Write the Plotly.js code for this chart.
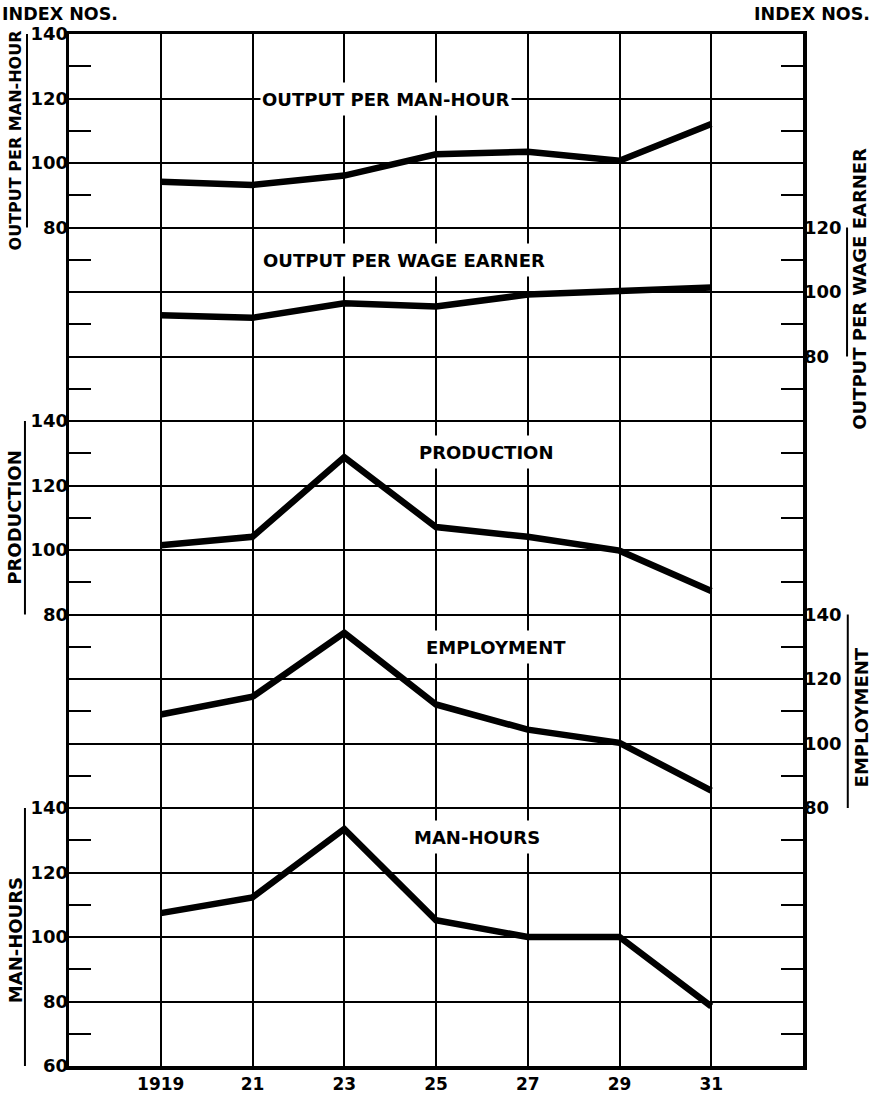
<!DOCTYPE html>
<html>
<head>
<meta charset="utf-8">
<script src="https://cdn.plot.ly/plotly-3.0.1.min.js"></script>
<style>
  html, body { margin: 0; padding: 0; background: #fff; }
  #chart { width: 873px; height: 1096px; }
</style>
</head>
<body>
<div id="chart"></div>
<script>
// ---- Data ----
const years = [1919, 1921, 1923, 1925, 1927, 1929, 1931];
const yearLabels = ['1919', '21', '23', '25', '27', '29', '31'];

const outputPerManHour    = [94.2, 93.2, 96.1, 102.7, 103.5, 100.7, 112.1];
const outputPerWageEarner = [92.8, 92.0, 96.5, 95.5, 99.2, 100.2, 101.4];
const production          = [101.5, 104.1, 128.8, 107.1, 104.1, 99.8, 87.3];
const employment          = [109.0, 114.5, 134.3, 112.1, 104.3, 100.2, 85.4];
const manHours            = [107.4, 112.3, 133.5, 105.2, 100.0, 100.0, 78.5];

const opmhTicks = [80, 100, 120, 140];
const opweTicks = [80, 100, 120];
const prodTicks = [80, 100, 120, 140];
const empTicks  = [80, 100, 120, 140];
const mhTicks   = [60, 80, 100, 120, 140];

const seriesNames = ['OUTPUT PER MAN-HOUR', 'OUTPUT PER WAGE EARNER', 'PRODUCTION', 'EMPLOYMENT', 'MAN-HOURS'];
const axisTitles  = ['OUTPUT PER MAN-HOUR', 'OUTPUT PER WAGE EARNER', 'PRODUCTION', 'EMPLOYMENT', 'MAN-HOURS'];
const headerText = 'INDEX NOS.';

// ---- Styling ----
const FONT = 'DejaVu Sans, Liberation Sans, sans-serif';
const INK = '#000';
const LINE_W = 6.5;

const series = [outputPerManHour, outputPerWageEarner, production, employment, manHours];
const axes = ['y2', 'y3', 'y4', 'y5', 'y6'];

// invisible carrier so the base (grid) subplot exists
const traces = [{
  type: 'scatter', mode: 'lines', x: [years[0]], y: [null], yaxis: 'y',
  line: { color: 'rgba(0,0,0,0)' }, showlegend: false, hoverinfo: 'skip'
}].concat(series.map((vals, i) => ({
  type: 'scatter', mode: 'lines',
  x: years, y: vals, yaxis: axes[i], name: seriesNames[i],
  line: { color: INK, width: LINE_W },
  showlegend: false, hoverinfo: 'skip', cliponaxis: false
})));

function overlayAxis(range, ticks, side) {
  return {
    overlaying: 'y', anchor: 'x', side: side, range: range,
    tickvals: ticks, ticktext: ticks.map(String),
    showgrid: false, zeroline: false, showline: false, ticks: '',
    tickfont: { family: FONT, size: 18, color: INK, weight: 'bold' },
    automargin: false, fixedrange: true
  };
}

function titleFont(size) { return { family: FONT, size: size, color: INK, weight: 'bold' }; }
const labelFont = { family: FONT, size: 18, color: INK, weight: 'bold' };

function sideTitle(text, xPaper, yref, yVal, size) {
  return { text: text, xref: 'paper', x: xPaper, yref: yref, y: yVal,
    textangle: -90, showarrow: false, font: titleFont(size), xanchor: 'center', yanchor: 'middle' };
}
function inLabel(text, xYear, yref, yVal) {
  return { text: text, xref: 'x', x: xYear, yref: yref, y: yVal, showarrow: false,
    font: labelFont, bgcolor: '#fff', borderpad: 1, height: 30, valign: 'middle',
    xanchor: 'center', yanchor: 'middle' };
}
function bracket(xPaper, yref, y0, y1) {
  return { type: 'line', xref: 'paper', x0: xPaper, x1: xPaper, yref: yref, y0: y0, y1: y1,
    line: { color: INK, width: 2 } };
}

const layout = {
  width: 873, height: 1096,
  margin: { l: 69, r: 70, t: 34, b: 30, pad: 0 },
  paper_bgcolor: '#fff', plot_bgcolor: '#fff',
  showlegend: false,
  xaxis: {
    range: [1917, 1933], tickvals: years, ticktext: yearLabels,
    showgrid: true, gridcolor: INK, gridwidth: 2,
    showline: true, linecolor: INK, linewidth: 3.5, mirror: true,
    zeroline: false, ticks: '',
    tickfont: { family: FONT, size: 17, color: INK, weight: 'bold' },
    automargin: false, fixedrange: true
  },
  yaxis: {
    range: [0, 320], tick0: 0, dtick: 20,
    showgrid: true, gridcolor: INK, gridwidth: 2,
    showline: true, linecolor: INK, linewidth: 3.5, mirror: 'ticks',
    zeroline: false, ticks: '', showticklabels: false,
    minor: { tick0: 0, dtick: 10, ticks: 'inside', ticklen: 22, tickwidth: 2, tickcolor: INK, showgrid: false },
    automargin: false, fixedrange: true
  },
  yaxis2: overlayAxis([-180, 140], opmhTicks, 'left'),
  yaxis3: overlayAxis([-140, 180], opweTicks, 'right'),
  yaxis4: overlayAxis([-60, 260], prodTicks, 'left'),
  yaxis5: overlayAxis([0, 320], empTicks, 'right'),
  yaxis6: overlayAxis([60, 380], mhTicks, 'left'),
  shapes: [
    bracket(-0.0572, 'y2', 80, 140),
    bracket(1.060, 'y3', 80, 120),
    bracket(-0.060, 'y4', 80, 140),
    bracket(1.061, 'y5', 80, 140),
    bracket(-0.060, 'y6', 58, 140)
  ],
  annotations: [
    { text: headerText, xref: 'paper', x: -0.094, xanchor: 'left', yref: 'paper', y: 1.019, yanchor: 'middle',
      showarrow: false, font: { family: FONT, size: 17.5, color: INK, weight: 'bold' } },
    { text: headerText, xref: 'paper', x: 1.094, xanchor: 'right', yref: 'paper', y: 1.019, yanchor: 'middle',
      showarrow: false, font: { family: FONT, size: 17.5, color: INK, weight: 'bold' } },
    sideTitle(axisTitles[0], -0.0736, 'y2', 107, 16),
    sideTitle(axisTitles[1], 1.0777, 'y3', 101, 18),
    sideTitle(axisTitles[2], -0.0736, 'y4', 110, 18),
    sideTitle(axisTitles[3], 1.080, 'y5', 108, 18),
    sideTitle(axisTitles[4], -0.0736, 'y6', 99, 18),
    inLabel(seriesNames[0], 1923.9, 'y2', 120),
    inLabel(seriesNames[1], 1924.3, 'y3', 110),
    inLabel(seriesNames[2], 1926.1, 'y4', 130.3),
    inLabel(seriesNames[3], 1926.3, 'y5', 129.8),
    inLabel(seriesNames[4], 1925.9, 'y6', 131)
  ]
};

Plotly.newPlot('chart', traces, layout, { staticPlot: true, displayModeBar: false });
</script>
</body>
</html>
